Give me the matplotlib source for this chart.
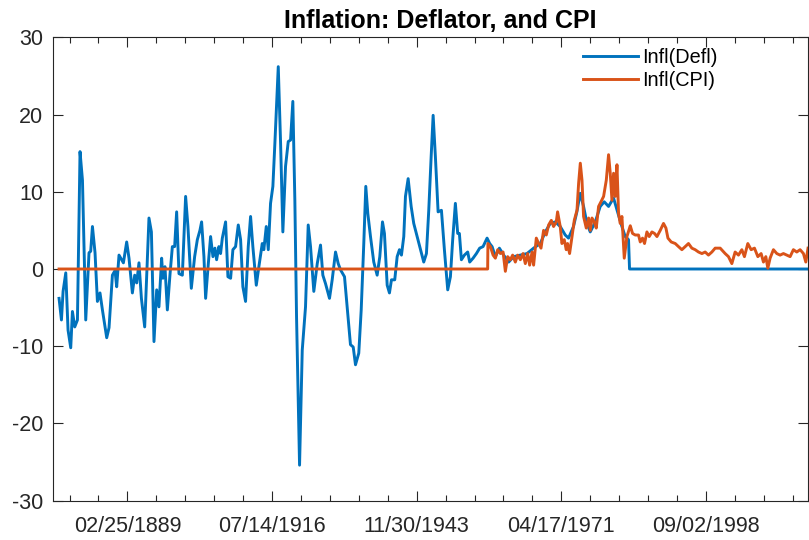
import numpy as np
import matplotlib
matplotlib.use("Agg")
import matplotlib.pyplot as plt
import matplotlib.dates as mdates
from matplotlib.ticker import FixedLocator, NullLocator
from datetime import datetime

# inflation based on the GDP deflator (decimal year, percent)
defl_year = [1876.21, 1876.66, 1876.97, 1877.48, 1877.91, 1878.42, 1878.74, 1879.18, 1879.69, 1880.18,
             1880.64, 1881.26, 1881.88, 1882.20, 1882.53, 1883.02, 1883.47, 1883.96, 1884.42, 1885.23,
             1885.67, 1886.31, 1886.80, 1887.12, 1887.56, 1888.07, 1888.39, 1889.01, 1889.45, 1890.09,
             1890.53, 1890.91, 1891.34, 1891.80, 1892.42, 1893.23, 1893.69, 1894.18, 1894.69, 1895.12,
             1895.63, 1895.88, 1896.26, 1896.71, 1897.20, 1897.66, 1898.09, 1898.47, 1898.91, 1899.55,
             1900.17, 1900.61, 1901.25, 1901.88, 1902.39, 1902.88, 1903.20, 1903.64, 1903.96, 1904.47,
             1904.90, 1905.34, 1905.72, 1906.04, 1906.47, 1906.79, 1907.12, 1907.74, 1908.18, 1908.69,
             1909.12, 1909.63, 1910.14, 1910.58, 1911.01, 1911.52, 1912.03, 1912.47, 1912.90, 1913.55,
             1914.04, 1914.68, 1914.98, 1915.44, 1915.82, 1916.25, 1916.69, 1917.07, 1917.71, 1918.15,
             1918.58, 1919.09, 1919.60, 1920.04, 1920.47, 1920.85, 1921.17, 1921.74, 1922.25, 1922.87,
             1923.38, 1923.82, 1924.44, 1925.09, 1925.71, 1926.15, 1926.66, 1927.41, 1927.92, 1928.55,
             1929.06, 1929.49, 1930.25, 1930.76, 1931.38, 1931.90, 1932.33, 1932.95, 1933.41, 1933.90,
             1934.28, 1934.66, 1935.17, 1935.79, 1936.43, 1936.93, 1937.44, 1937.81, 1938.33, 1938.76,
             1939.14, 1939.76, 1940.22, 1940.65, 1941.03, 1941.47, 1941.79, 1942.30, 1942.87, 1943.36,
             1944.00, 1944.63, 1945.25, 1945.76, 1946.20, 1946.65, 1947.03, 1947.46, 1947.97, 1948.60,
             1949.16, 1949.79, 1950.30, 1950.73, 1951.24, 1951.68, 1952.00, 1952.38, 1952.95, 1953.57,
             1953.95, 1954.59, 1955.22, 1955.84, 1956.48, 1957.24, 1957.73, 1958.19, 1958.81, 1959.57,
             1960.38, 1961.33, 1962.27, 1963.54, 1964.80, 1966.05, 1967.32, 1968.26, 1969.20, 1970.15,
             1971.09, 1972.04, 1972.66, 1973.60, 1974.24, 1974.87, 1975.51, 1976.15, 1976.77, 1977.72,
             1978.66, 1979.42, 1980.24, 1981.18, 1981.94, 1982.77, 1983.39, 1984.02, 1984.21, 2018.0]
defl_val = [-3.8, -6.6, -2.9, -0.5, -7.9, -10.2, -5.5, -7.5, -6.6, 15.2,
            11.5, -6.6, 2.1, 2.3, 5.5, 2.1, -4.2, -3.1, -5.3, -8.9,
            -7.6, -0.8, -0.2, -2.3, 1.8, 1.2, 0.8, 3.5, 1.4, -3.1,
            -0.8, -1.8, 0.8, -3.8, -7.5, 6.6, 4.8, -9.4, -2.7, -4.9,
            1.4, -1.2, 0.3, -5.3, -0.8, 2.9, 2.9, 7.4, -0.6, -0.8,
            9.4, 5.5, -2.5, 1.6, 3.8, 5.0, 6.1, 1.6, -3.8, 0.7,
            4.2, 1.6, 2.7, 1.2, 2.9, 2.0, 4.0, 6.1, -1.0, -1.2,
            2.5, 2.9, 5.7, 3.8, -2.3, -4.2, 2.9, 6.8, 2.9, -2.1,
            0.3, 3.3, 2.5, 5.5, 2.5, 8.5, 10.7, 16.3, 26.2, 16.3,
            4.8, 13.3, 16.5, 16.7, 21.7, 8.9, -6.2, -25.4, -10.5, -4.9,
            5.7, 2.9, -2.9, 0.7, 3.1, -0.8, -1.9, -3.8, -1.4, 2.2,
            0.7, -0.1, -1.0, -4.9, -9.8, -10.1, -12.4, -10.9, -5.3, 3.3,
            10.7, 7.2, 4.2, 0.9, -0.8, 1.6, 6.1, 4.6, -2.1, -3.1,
            -1.4, -1.4, 1.6, 2.5, 1.8, 4.2, 9.4, 11.7, 8.1, 5.9,
            4.2, 2.5, 0.9, 2.0, 7.6, 14.5, 19.9, 14.5, 7.4, 7.6,
            2.5, -2.7, -1.0, 3.8, 8.5, 4.6, 4.6, 1.2, 1.8, 2.2,
            0.9, 1.4, 2.0, 2.7, 2.9, 4.0, 3.3, 2.9, 1.6, 2.7,
            1.8, 0.9, 1.6, 1.8, 2.0, 2.7, 3.3, 4.8, 5.9, 6.1,
            5.5, 4.4, 4.0, 5.5, 7.4, 9.8, 8.1, 5.9, 4.8, 6.1,
            8.1, 8.7, 8.1, 9.2, 7.4, 5.5, 4.2, 3.8, 0.0, 0.0]

# inflation based on the CPI (decimal year, percent)
cpi_year = [1876.21, 1957.35, 1957.40, 1957.87, 1958.38, 1958.81, 1959.25, 1959.76, 1960.27, 1960.70,
            1961.14, 1961.65, 1962.08, 1962.59, 1963.03, 1963.54, 1964.05, 1964.48, 1964.92, 1965.30,
            1965.75, 1966.05, 1966.56, 1967.00, 1967.45, 1967.94, 1968.45, 1968.89, 1969.40, 1969.83,
            1970.34, 1970.59, 1971.09, 1971.41, 1971.85, 1972.23, 1972.48, 1972.86, 1973.32, 1973.75,
            1974.26, 1974.57, 1974.89, 1975.21, 1975.51, 1976.02, 1976.46, 1976.78, 1977.10, 1977.53,
            1977.91, 1978.35, 1978.80, 1979.30, 1979.81, 1980.24, 1980.56, 1980.88, 1981.19, 1981.51,
            1981.83, 1982.13, 1982.45, 1982.77, 1983.21, 1983.72, 1984.21, 1984.35, 1984.78, 1985.29,
            1985.91, 1986.24, 1986.67, 1987.05, 1987.50, 1987.94, 1988.45, 1988.94, 1989.40, 1990.02,
            1990.64, 1991.10, 1991.48, 1992.10, 1992.86, 1993.48, 1994.12, 1994.75, 1995.37, 1996.01,
            1996.64, 1997.26, 1997.91, 1998.53, 1999.15, 1999.80, 2000.42, 2001.37, 2002.31, 2002.94,
            2003.58, 2004.20, 2004.83, 2005.47, 2005.96, 2006.60, 2007.23, 2007.86, 2008.50, 2009.12,
            2009.56, 2010.01, 2010.39, 2010.82, 2011.45, 2012.09, 2012.71, 2013.34, 2013.98, 2014.61,
            2015.23, 2015.87, 2016.50, 2017.13, 2017.58, 2018.0]
cpi_val = [0.0, 0.0, 3.3, 2.9, 1.8, 1.4, 2.5, 2.0, 2.2, -0.3,
           1.6, 1.2, 1.8, 0.9, 1.8, 1.2, 2.0, 0.7, 2.0, 0.5,
           2.2, 0.5, 4.0, 3.3, 2.7, 5.0, 4.4, 5.7, 6.3, 5.5,
           6.1, 7.4, 5.5, 3.3, 3.8, 2.5, 3.3, 2.0, 4.2, 6.3,
           7.6, 11.1, 13.7, 11.5, 6.8, 5.3, 6.6, 5.0, 6.6, 6.1,
           5.3, 8.1, 8.7, 9.4, 11.5, 14.8, 12.4, 8.9, 12.4, 9.4,
           13.5, 7.2, 5.9, 6.8, 1.4, 4.2, 5.3, 5.6, 4.6, 4.4,
           4.4, 3.5, 4.0, 3.3, 4.8, 4.2, 4.8, 4.6, 4.2, 5.0,
           5.9, 5.3, 4.0, 3.5, 3.3, 2.9, 2.5, 2.9, 3.3, 2.7,
           2.5, 2.2, 2.0, 2.2, 1.8, 2.2, 2.7, 2.7, 2.0, 1.6,
           0.7, 2.2, 1.8, 2.5, 1.6, 3.3, 2.5, 2.7, 1.6, 2.0,
           0.9, 1.6, 0.1, 1.4, 2.5, 2.0, 1.8, 2.0, 1.8, 1.6,
           2.5, 2.2, 2.5, 2.0, 0.9, 2.7]

tick_dates = [datetime(1889, 2, 25), datetime(1916, 7, 14), datetime(1943, 11, 30),
              datetime(1971, 4, 17), datetime(1998, 9, 2)]


def to_date(y):
    yr = int(np.floor(y))
    start = datetime(yr, 1, 1)
    return start + (datetime(yr + 1, 1, 1) - start) * (y - yr)


plt.rcParams['font.family'] = ['Liberation Sans', 'DejaVu Sans']
plt.rcParams['axes.unicode_minus'] = False
axcol = '#262626'

fig = plt.figure(figsize=(8.09, 5.40), dpi=100)
ax = fig.add_axes([0.0651, 0.0728, 0.9337, 0.8581])

ax.plot([to_date(y) for y in defl_year], defl_val, color='#0072BD', lw=2.1, label='Infl(Defl)')
ax.plot([to_date(y) for y in cpi_year], cpi_val, color='#D95319', lw=2.1, label='Infl(CPI)')

ax.set_xlim(datetime(1875, 1, 1), datetime(2018, 1, 1))
ax.set_ylim(-30, 30)
ax.set_yticks(np.arange(-30, 31, 10))
ax.yaxis.set_minor_locator(NullLocator())

major = mdates.date2num(tick_dates)
ax.xaxis.set_major_locator(FixedLocator(major))
ax.xaxis.set_minor_locator(FixedLocator(np.arange(major[0] - 10000, major[-1] + 10001, 2000)))
ax.set_xticklabels([d.strftime('%m/%d/%Y') for d in tick_dates])

for s in ax.spines.values():
    s.set_color(axcol)
    s.set_linewidth(0.8)
ax.tick_params(which='both', direction='in', top=True, right=True, colors=axcol, width=0.8)
ax.tick_params(which='major', length=7, labelsize=15.5)
ax.tick_params(which='minor', length=4)
ax.tick_params(axis='x', pad=11)
ax.tick_params(axis='y', pad=7)

ax.set_title('Inflation: Deflator, and CPI', fontsize=18, fontweight='bold', color='black',
             x=0.513, pad=7)

ax.legend(loc='upper left', bbox_to_anchor=(0.7203, 0.9115), bbox_transform=fig.transFigure,
          frameon=False, fontsize=14.3, handlelength=2.8, handletextpad=0.2,
          borderpad=0, borderaxespad=0, labelspacing=0.2)

fig.savefig('out.png', dpi=100)
